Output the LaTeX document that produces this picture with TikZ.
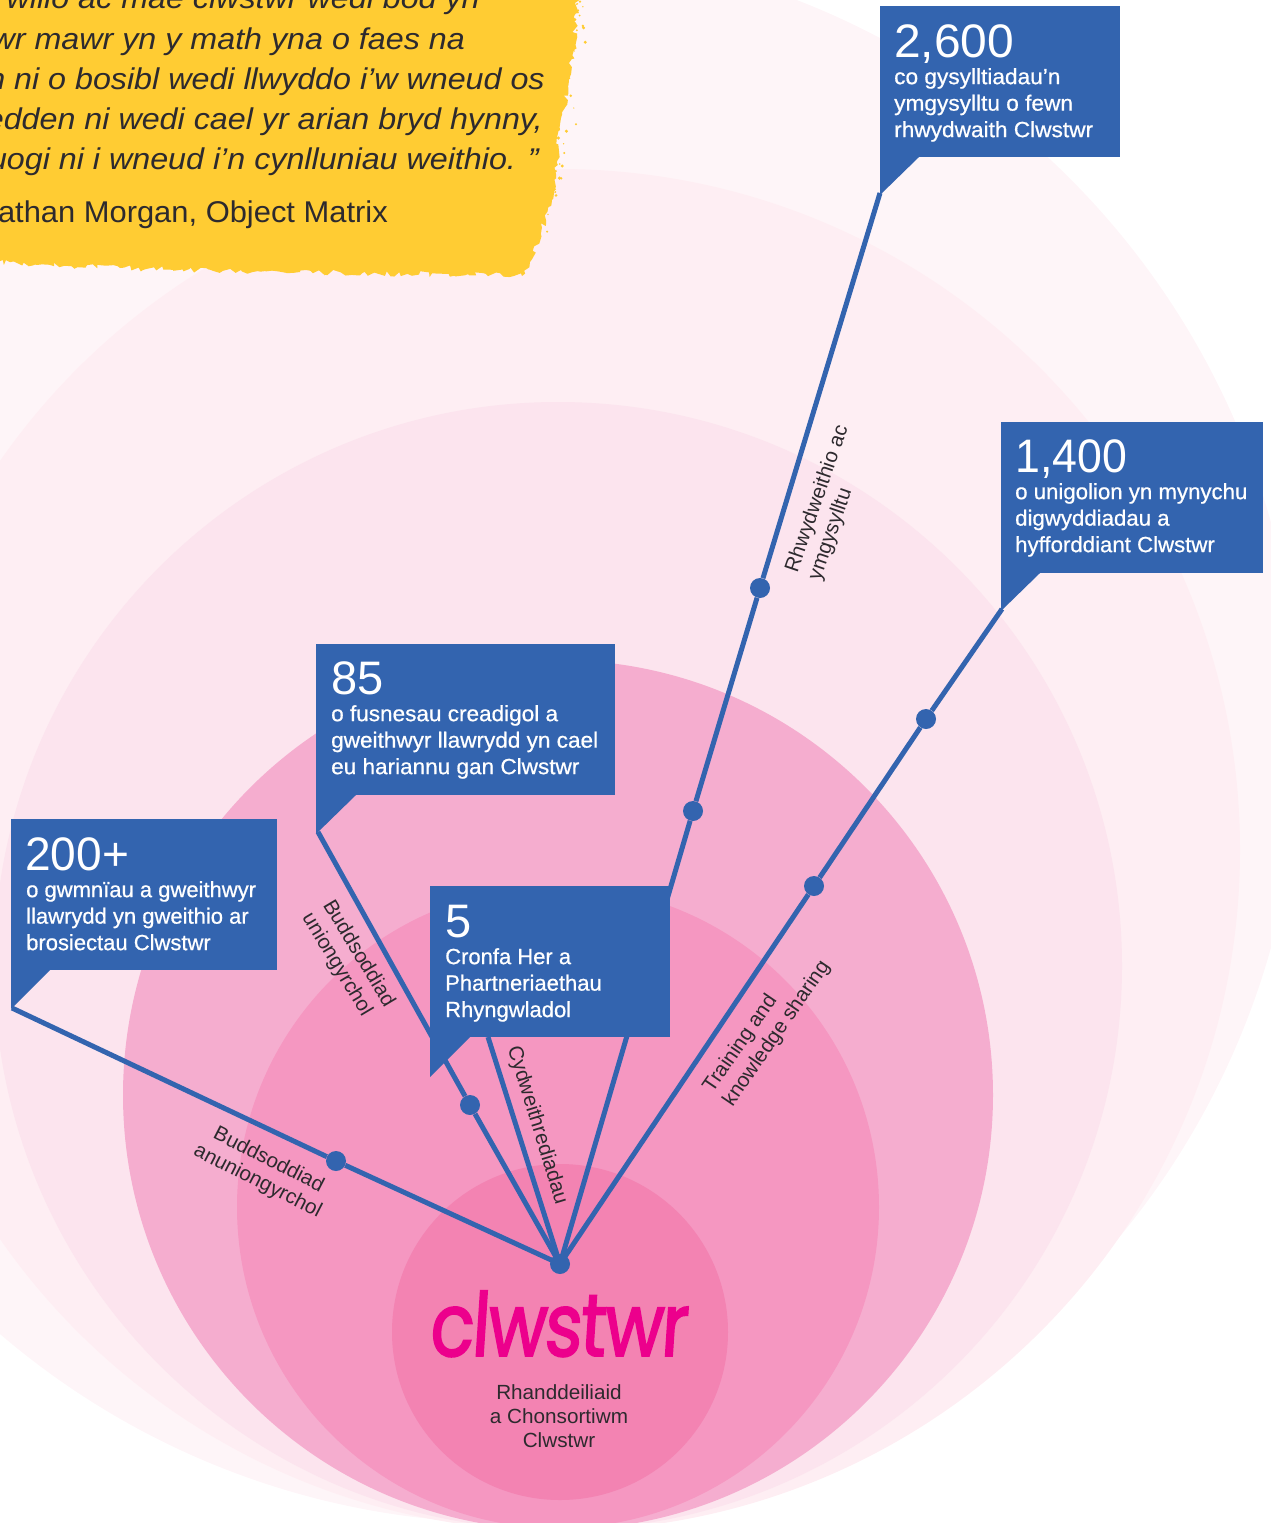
\documentclass[tikz,border=0pt]{standalone}
\usepackage{fontspec}
\setmainfont{Liberation Sans}
\newfontfamily\logofont[FakeBold=2.2,FakeSlant=0.08,LetterSpace=-3]{Poppins}
\newfontfamily\boxfont[FakeBold=0.7]{Liberation Sans}
\usetikzlibrary{decorations.pathmorphing}
\definecolor{blueb}{HTML}{3364AF}
\definecolor{ringa}{HTML}{FEF5F8}
\definecolor{ringb}{HTML}{FEEEF3}
\definecolor{ringc}{HTML}{FCE4EE}
\definecolor{ringd}{HTML}{F5ADCF}
\definecolor{ringe}{HTML}{F597C1}
\definecolor{ringf}{HTML}{F383B2}
\definecolor{logop}{HTML}{EC008C}
\definecolor{inkd}{HTML}{2D2A2E}
\definecolor{yell}{HTML}{FFCC33}
\tikzset{
  link/.style={draw=blueb,line width=5pt},
  dotn/.style={circle,fill=blueb,minimum size=20pt,inner sep=0pt},
  boxn/.style={fill=blueb,anchor=north west,inner sep=0pt},
  tailn/.style={fill=blueb},
  bignum/.style={text=white,anchor=base west,inner sep=0pt,font=\fontsize{47}{47}\selectfont,transform shape},
  boxtext/.style={text=white,anchor=north west,inner sep=0pt,align=left,font=\boxfont\fontsize{22}{26.5}\selectfont,transform shape},
  lab/.style={text=inkd,inner sep=0pt,font=\fontsize{20.5}{24}\selectfont,xscale=1.01,transform shape},
  quote/.style={text=inkd,anchor=base east,inner sep=0pt,font=\fontsize{30}{30}\selectfont\itshape,xscale=1.075,transform shape},
}
\begin{document}
\begin{tikzpicture}[x=1pt,y=-1pt]
\useasboundingbox (0,0) rectangle (1271,1523);
\clip (0,0) rectangle (1271,1523);
% rings
\fill[ringa] (512,735) circle[radius=788pt];
\fill[ringb] (559,850) circle[radius=681pt];
\fill[ringc] (558,966) circle[radius=564pt];
\fill[ringd] (558,1095) circle[radius=435pt];
\fill[ringe] (558,1207) circle[radius=321pt];
\fill[ringf] (560,1332) circle[radius=168pt];
% yellow panel
\pgfmathsetseed{42}
\fill[yell,decorate,decoration={random steps,segment length=4pt,amplitude=3pt}]
  (-10,-10) -- (578,-10) -- (574,50) -- (560,130) -- (552,200) -- (530,262) -- (522,276) -- (300,272) -- (120,268) -- (-10,262) -- cycle;
\foreach \i in {1,...,90}{
  \pgfmathsetmacro{\py}{rnd*272}
  \pgfmathsetmacro{\px}{576-0.17*\py+rnd*rnd*22-(\py>200?(\py-200)*0.35:0)}
  \pgfmathsetmacro{\pr}{0.6+rnd*1.2}
  \fill[yell] (\px,\py) circle[radius=\pr pt];
}
% anchors
\coordinate (hubc) at (560,1264);
\coordinate (ta) at (880,193);
\coordinate (tb) at (1002,609);
\coordinate (tc) at (318,832);
\coordinate (td) at (12,1008);
\coordinate (te) at (488,1037);
% connectors
\node[dotn] (da1) at (693,811) {};
\node[dotn] (da2) at (760,588) {};
\node[dotn] (db1) at (814,886) {};
\node[dotn] (db2) at (926,719) {};
\node[dotn] (dc1) at (470,1105) {};
\node[dotn] (dd1) at (336,1161) {};
\draw[link] (hubc) -- (da1) -- (da2) -- (ta);
\draw[link] (hubc) -- (db1) -- (db2) -- (tb);
\draw[link] (hubc) -- (dc1) -- (tc);
\draw[link] (hubc) -- (dd1) -- (td);
\draw[link] (hubc) -- (te);
\node[dotn] (hub) at (hubc) {};
% boxes
\node[boxn,minimum width=240pt,minimum height=151pt] (b2600) at (880,6) {};
\fill[tailn] (880,157) -- (919,157) -- (880,195) -- cycle;
\node[bignum,xscale=1.02] (n2600) at (894,57) {2,600};
\node[boxtext,xscale=1.03] (t2600) at (894,68) {co gysylltiadau’n\\ymgysylltu o fewn\\rhwydwaith Clwstwr};

\node[boxn,minimum width=262pt,minimum height=151pt] (b1400) at (1001,422) {};
\fill[tailn] (1001,573) -- (1040,573) -- (1001,611) -- cycle;
\node[bignum,xscale=0.95] (n1400) at (1015,472) {1,400};
\node[boxtext,xscale=1.01] (t1400) at (1015,483) {o unigolion yn mynychu\\digwyddiadau a\\hyfforddiant Clwstwr};

\node[boxn,minimum width=299pt,minimum height=151pt] (b85) at (316,644) {};
\fill[tailn] (316,795) -- (356,795) -- (316,834) -- cycle;
\node[bignum] (n85) at (331,694) {85};
\node[boxtext,xscale=1.025] (t85) at (331,705) {o fusnesau creadigol a\\gweithwyr llawrydd yn cael\\eu hariannu gan Clwstwr};

\node[boxn,minimum width=266pt,minimum height=151pt] (b200) at (11,819) {};
\fill[tailn] (11,970) -- (50,970) -- (11,1009) -- cycle;
\node[bignum,xscale=0.98] (n200) at (25,870) {200+};
\node[boxtext] (t200) at (26,881) {o gwmnïau a gweithwyr\\llawrydd yn gweithio ar\\brosiectau Clwstwr};

\node[boxn,minimum width=240pt,minimum height=151pt] (b5) at (430,886) {};
\fill[tailn] (430,1037) -- (470,1037) -- (430,1077) -- cycle;
\node[bignum] (n5) at (445,937) {5};
\node[boxtext] (t5) at (445,948) {Cronfa Her a\\Phartneriaethau\\Rhyngwladol};
% connector labels
\node[lab,align=left,rotate=71] (la) at (829,503) {Rhwydweithio ac\\ymgysylltu};
\node[lab,align=left,rotate=55.5] (lb) at (767,1027) {Training and\\knowledge sharing};
\node[lab,align=left,rotate=-59] (lc) at (348,960) {Buddsoddiad\\uniongyrchol};
\node[lab,rotate=-73] (ld) at (537,1125) {Cydweithrediadau};
\node[lab,align=center,rotate=-27] (le) at (263,1171) {Buddsoddiad\\anuniongyrchol};
% centre
\node[text=logop,inner sep=0pt,anchor=base,font=\logofont\fontsize{88}{88}\selectfont,xscale=0.82,transform shape] (logo) at (558,1356) {clwstwr};
\node[lab,align=center] (core) at (559,1416) {Rhanddeiliaid\\a Chonsortiwm\\Clwstwr};
% quote
\node[quote] (q1) at (480,9) {wilio ac mae clwstwr wedi bod yn};
\node[quote] (q2) at (465,49) {wr mawr yn y math yna o faes na};
\node[quote] (q3) at (545,89) {n ni o bosibl wedi llwyddo i’w wneud os};
\node[quote] (q4) at (543,129) {edden ni wedi cael yr arian bryd hynny,};
\node[quote] (q5) at (539,169) {uogi ni i wneud i’n cynlluniau weithio. ”};
\node[quote,font=\fontsize{30}{30}\selectfont,xscale=0.958] (q6) at (388,222) {athan Morgan, Object Matrix};
\end{tikzpicture}
\end{document}
